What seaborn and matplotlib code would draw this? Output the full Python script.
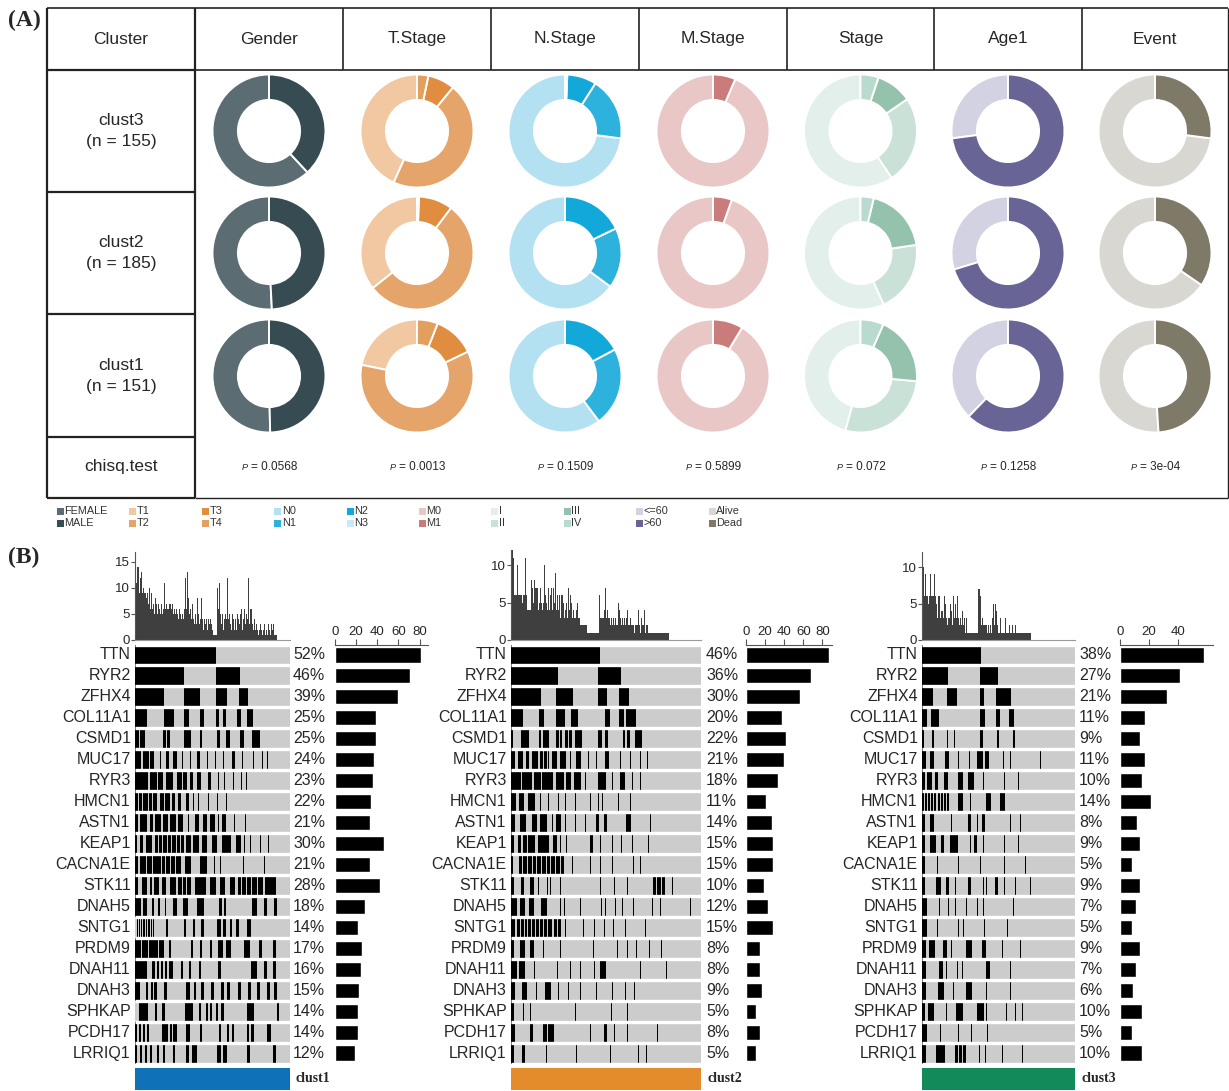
import numpy as np
import pandas as pd
import matplotlib
matplotlib.use("Agg")
import matplotlib.pyplot as plt
from matplotlib.colors import ListedColormap
from matplotlib.patches import Rectangle
import seaborn as sns

sns.set_theme(style="white")
plt.rcParams['font.family'] = ['Liberation Sans', 'DejaVu Sans']

# ---------------- panel A data ----------------
features = ['Gender', 'T.Stage', 'N.Stage', 'M.Stage', 'Stage', 'Age1', 'Event']
clusters = ['clust3', 'clust2', 'clust1']
cluster_n = [155, 185, 151]

gender_levels = ['FEMALE', 'MALE']
gender_colors = ['#5B6C73', '#364B52']
gender_counts = [[96, 59], [94, 91], [76, 75]]

tstage_levels = ['T1', 'T2', 'T3', 'T4']
tstage_colors = ['#F1C8A1', '#E4A46A', '#E08D3F', '#E39F5E']
tstage_counts = [[67, 71, 12, 5], [66, 100, 18, 1], [33, 91, 18, 9]]

nstage_levels = ['N0', 'N1', 'N2', 'N3']
nstage_colors = ['#B3E1F1', '#2DB2DE', '#13A8DA', '#C8EAF5']
nstage_counts = [[113, 28, 13, 1], [120, 32, 33, 0], [91, 34, 26, 0]]

mstage_levels = ['M0', 'M1']
mstage_colors = ['#E9C7C7', '#C97C79']
mstage_counts = [[145, 10], [175, 10], [138, 13]]

stage_levels = ['I', 'II', 'III', 'IV']
stage_colors = ['#E2EFEA', '#C9E1D6', '#94C2AC', '#B9DACE']
stage_counts = [[92, 39, 16, 8], [105, 38, 35, 7], [69, 42, 30, 10]]

age_levels = ['<=60', '>60']
age_colors = ['#D3D2E3', '#686496']
age_counts = [[42, 113], [55, 130], [57, 94]]

event_levels = ['Alive', 'Dead']
event_colors = ['#D8D7D1', '#7F7967']
event_counts = [[113, 42], [121, 64], [77, 74]]

pvalues = ['0.0568', '0.0013', '0.1509', '0.5899', '0.072', '0.1258', '3e-04']

# ---------------- panel B data ----------------
genes = ['TTN', 'RYR2', 'ZFHX4', 'COL11A1', 'CSMD1', 'MUC17', 'RYR3', 'HMCN1',
         'ASTN1', 'KEAP1', 'CACNA1E', 'STK11', 'DNAH5', 'SNTG1', 'PRDM9',
         'DNAH11', 'DNAH3', 'SPHKAP', 'PCDH17', 'LRRIQ1']
onco_names = ['clust1', 'clust2', 'clust3']
onco_colors = ['#0F71B8', '#E48B2C', '#138A5A']
n_samples = [155, 190, 153]

pct_c1 = [52, 46, 39, 25, 25, 24, 23, 22, 21, 30, 21, 28, 18, 14, 17, 16, 15, 14, 14, 12]
pct_c2 = [46, 36, 30, 20, 22, 21, 18, 11, 14, 15, 15, 10, 12, 15, 8, 8, 9, 5, 8, 5]
pct_c3 = [38, 27, 21, 11, 9, 11, 10, 14, 8, 9, 5, 9, 7, 5, 9, 7, 6, 10, 5, 10]

tmb_c1 = [17, 11, 14, 14, 9, 12, 13, 9, 10, 9, 9, 8, 9, 7, 10, 6, 9, 6, 7, 5,
          8, 7, 5, 7, 6, 5, 7, 5, 6, 11, 6, 7, 6, 6, 7, 7, 6, 7, 5, 6,
          5, 6, 5, 4, 6, 5, 4, 5, 4, 6, 12, 6, 13, 8, 5, 6, 4, 7, 4, 3,
          5, 3, 8, 5, 3, 4, 8, 4, 2, 4, 3, 4, 2, 4, 3, 4, 3, 2, 1, 1,
          1, 1, 10, 6, 11, 5, 3, 5, 2, 4, 5, 4, 12, 4, 5, 3, 2, 5, 4, 2,
          4, 2, 5, 4, 3, 5, 6, 2, 4, 6, 3, 5, 4, 12, 3, 6, 6, 3, 2, 4,
          2, 3, 2, 1, 2, 3, 2, 1, 2, 3, 1, 2, 1, 3, 2, 1, 3, 2, 3, 1, 1, 1]
tmb_c2 = [11, 12, 11, 6, 6, 6, 10, 6, 6, 6, 6, 5, 6, 6, 11, 6, 4, 4, 4, 4,
          8, 7, 5, 8, 7, 7, 7, 4, 5, 7, 5, 4, 5, 10, 6, 5, 4, 7, 4, 6,
          7, 4, 7, 5, 9, 4, 6, 4, 6, 3, 6, 6, 5, 3, 4, 5, 3, 7, 4, 6,
          5, 3, 4, 3, 3, 4, 5, 3, 3, 2, 2, 2, 2, 2, 2, 2, 1, 1, 1, 1,
          1, 1, 1, 1, 1, 1, 1, 1, 6, 3, 3, 3, 3, 4, 7, 3, 4, 3, 3, 2,
          3, 2, 3, 2, 3, 2, 2, 5, 4, 3, 2, 3, 2, 3, 2, 3, 4, 2, 2, 3,
          2, 2, 2, 1, 2, 2, 2, 4, 2, 1, 3, 2, 2, 4, 1, 2, 2, 1, 1, 1,
          1, 1, 1, 1, 1, 1, 1, 1, 1, 1, 1, 1, 1, 1, 1, 1, 1, 1]
tmb_c3 = [11, 10, 6, 9, 6, 6, 5, 6, 9, 6, 6, 6, 9, 6, 5, 3, 6, 6, 3, 4,
          4, 3, 6, 5, 3, 2, 3, 3, 5, 4, 2, 6, 3, 5, 3, 6, 3, 2, 3, 2,
          4, 2, 3, 1, 3, 1, 1, 1, 1, 1, 1, 1, 1, 1, 1, 1, 7, 7, 6, 2,
          3, 2, 2, 2, 2, 1, 2, 1, 2, 1, 3, 5, 2, 5, 4, 2, 1, 1, 3, 1,
          1, 1, 1, 3, 1, 1, 1, 2, 1, 1, 2, 1, 1, 2, 1, 1, 1, 1, 1, 1,
          1, 1, 1, 1, 1, 1, 1, 1, 1]

# mutated sample runs per gene (sample positions in oncoprint order)
runs_c1 = ["0-80", "0-48 81-104", "0-28 49-64 81-91 104-112",
           "0-11 29-38 49-53 65-68 81-83 88-90 102-105 112-117",
           "0-3 5-9 28-30 32-34 49-55 65-66 82-84 91-94 105-108 117-124",
           "0-5 8-13 15-18 25 31-33 38-41 47 55 62-64 72 80 88 97-99 107 118 127 132",
           "0-12 15-21 23-27 31-37 42-46 48-51 55-57 62-65 73-75 83 89 98 106 111",
           "0-2 4-6 8-12 14-16 18-21 25-28 30-34 37-39 43-45 51-53 58 63 73 82 91",
           "0-2 5-11 15-17 20-25 28-32 35-40 43-47 53 60-63 68-71 75-79 83 87-90 99 110",
           "0-1 5-7 11-16 20-22 24-26 28-31 33-35 37-40 42-44 46-48 51-55 58-63 67-71 77-81 87-95 101-105 109 115 125 133",
           "0-2 5-10 12-16 18-25 27-29 31-34 36-39 41-45 50-55 65-71 79 85 108 129",
           "0-2 7-11 15-16 19-23 27-30 35-40 43-46 48-50 52-55 60-70 75-80 85-89 95-99 103-105 107-110 112-115 117-121 123-127 130-140",
           "0-5 8-11 17-18 23-24 30 38-41 48-52 62-68 84-86 89-90 117-121 129-131 139-141",
           "2 4 6 8-9 11 13-14 16 18 31-32 49-50 58-59 66-68 82-85 88-90 95-96 101-103 112-115",
           "0-5 7-12 14-22 24-28 34-35 56-57 65-66 75-76 83-87 91-95 109-114 124-126 138-140",
           "0-11 17-19 22-23 26-27 30-31 34-37 46-47 54-55 64-65 83-85 116-121 129-131 138-140",
           "0-4 11-12 16-17 19-21 29-31 51-54 59-60 66-68 76-78 86-88 92-94 103-105 113-115 122-124 132-134 139-141",
           "4-12 20-21 27-29 50-57 64-65 71-72 75-76 81-82 86-88 112-118 142-143",
           "0-1 4-5 8-9 12-13 27-32 35-36 38-41 51-54 65-66 84-85 92-93 97-98 112-113 116-118 132-135",
           "0-1 5-6 10-11 15-16 22-23 28-29 38-39 51-53 57-61 82-85 88-91 112-114 138-140"]
runs_c2 = ["0-88", "0-46 87-109", "0-29 45-61 87-95 108-117",
           "0-11 28-32 45-53 60-66 94-98 108-112 115-124",
           "0-1 10-17 28-29 32-37 45-47 49-50 54-56 58-60 64-70 87-88 89-90 94-95 96 112-113 116-118 124-130",
           "0-3 7-11 15-17 21-26 29-31 33-35 37 41-45 49-54 59 65-69 77 85 94-97 109 119 129 136",
           "0-9 11-20 23-29 31-41 45-52 55-59 63-69 74 87-94 101 109-113 121 129",
           "0-4 8-12 17-23 29 37 47 54 64 79 87 91 107 119",
           "0-3 9-14 21-25 29-35 41 45-49 54 64 74 85-87 93-95 115-119 139",
           "0-2 7-9 12-15 17-23 27-37 42-45 49 55 79-81 89 101 110 121 137",
           "0-1 8-10 12-15 17-20 22-24 26-29 31-34 36-38 40-43 45-48 50-52 61 79 89 101 122 129",
           "0-2 10-12 19-22 27 36 39 49 89 103 116 142-144 146-149 151-153 161",
           "0-5 9-13 18-22 30-35 49 53 69 90 94 104 111 122 141 149 179",
           "0-3 6-8 10-12 14-15 17-19 21-23 25-27 29-31 33-35 37-40 43-45 47-49 54 72 83 93 102 114 134",
           "0-2 9-13 19-22 32 49 82 106 116 125 138 150",
           "0-5 8-13 23 46 59 69 83 89-94 129 155",
           "0-3 11-15 25 34-39 47 57 69 85 101 114 123",
           "0-2 12 19 64 100 116",
           "0-3 19-21 32-35 37-39 40-42 79 93-95 103 116 146",
           "0-2 11-13 35 65 99 127 135"]
runs_c3 = ["0-58", "0-25 58-75", "0-10 25-34 58-61 74-88",
           "0-4 9-16 58-62 74-77 87-91",
           "0-1 10-11 25 32 58-60 75-76 91-92",
           "0-3 8-11 23-26 36 47 55-60 63-66 81 88 118",
           "0-2 5-9 13-15 22-25 36-40 46-51 61 82 96",
           "0-1 3-4 6-7 9-10 12-13 16-17 19-20 22-23 25-26 36-40 48 64-68 78-82",
           "0-2 8-11 29 46-48 55 60-62 88 98",
           "0-2 8-13 19-21 28-35 48 52-54 61 82 96",
           "0-2 15 36 58 82 103",
           "0-2 14-18 24-26 33 46-48 61 64 73-75 82 93 108",
           "0-4 17 26 33 44 55 61 91",
           "0-4 15 36 41 62 85",
           "0-3 7-12 21-24 29 44-49 60-63 80 98",
           "0-3 17-20 24 35 40 64-67 88",
           "0-3 16-21 31 44-49 64 88",
           "0-2 6-11 24 34-40 55-61 64 84 93 100",
           "0-4 18 36 49 65",
           "0-3 14-22 33-35 37-39 41-43 57 63 80 100"]

# ---------------- figure ----------------
W, H = 1229, 1091
fig = plt.figure(figsize=(W / 100, H / 100), dpi=100)


def px_axes(x0, y0, x1, y1):
    a = fig.add_axes([x0 / W, 1 - y1 / H, (x1 - x0) / W, (y1 - y0) / H])
    a.patch.set_alpha(0)
    return a


ov = fig.add_axes([0, 0, 1, 1])
ov.set_xlim(0, W)
ov.set_ylim(H, 0)
ov.axis('off')

# panel labels
ov.text(8, 20, '(A)', fontsize=17, fontweight='bold', family='Liberation Serif', va='center')
ov.text(8, 557, '(B)', fontsize=17, fontweight='bold', family='Liberation Serif', va='center')

# ---- table frame ----
edges = [195, 343, 491, 639, 787, 934, 1082, 1228]
row_edges = [70, 192, 314, 437, 498]
lc = '#222222'
ov.hlines([8, 70], 47, 1228, color=lc, lw=1.2)
ov.vlines(edges[1:-1], 8, 70, color=lc, lw=1.2)
ov.vlines([47, 195], 8, 498, color=lc, lw=1.6)
ov.hlines(row_edges, 47, 195, color=lc, lw=1.6)
ov.vlines(1228, 8, 498, color=lc, lw=1.0)
ov.hlines(498, 195, 1228, color=lc, lw=1.0)

ov.text(121, 39, 'Cluster', ha='center', va='center', fontsize=12.5)
centers = [(edges[i] + edges[i + 1]) / 2 for i in range(7)]
for cx, f in zip(centers, features):
    ov.text(cx, 39, f, ha='center', va='center', fontsize=12.5)

row_y = [131, 253, 376]
for cy, cl, n in zip(row_y, clusters, cluster_n):
    ov.text(121, cy, f'{cl}\n(n = {n})', ha='center', va='center', fontsize=12.5, linespacing=1.5)
ov.text(121, 467, 'chisq.test', ha='center', va='center', fontsize=12.5)

# ---- donuts ----
donut_counts = [gender_counts, tstage_counts, nstage_counts, mstage_counts,
                stage_counts, age_counts, event_counts]
donut_colors = [gender_colors, tstage_colors, nstage_colors, mstage_colors,
                stage_colors, age_colors, event_colors]
r = 56.5
for j, cx in enumerate(centers):
    for i, cy in enumerate(row_y):
        a = px_axes(cx - r, cy - r, cx + r, cy + r)
        a.pie(donut_counts[j][i], colors=donut_colors[j], startangle=90, counterclock=True,
              wedgeprops=dict(width=0.45, edgecolor='white', linewidth=1.4))
        a.set_xlim(-1, 1)
        a.set_ylim(-1, 1)
        a.set_aspect('auto')
        a.axis('off')

# ---- p-values ----
fig.canvas.draw()
renderer = fig.canvas.get_renderer()
for cx, p in zip(centers, pvalues):
    t = ov.text(cx + 5, 467, f'= {p}', ha='center', va='center', fontsize=8.5)
    bb = t.get_window_extent(renderer)
    x_left = ov.transData.inverted().transform((bb.x0, bb.y0))[0]
    ov.text(x_left - 3, 468, 'P', ha='right', va='center', fontsize=6.5, style='italic')

# ---- legend ----
leg_levels = [gender_levels, tstage_levels[:2], tstage_levels[2:], nstage_levels[:2],
              nstage_levels[2:], mstage_levels, stage_levels[:2], stage_levels[2:],
              age_levels, event_levels]
leg_cols = [gender_colors, tstage_colors[:2], tstage_colors[2:], nstage_colors[:2],
            nstage_colors[2:], mstage_colors, stage_colors[:2], stage_colors[2:],
            age_colors, event_colors]
for k, (labs, cols) in enumerate(zip(leg_levels, leg_cols)):
    sx = 57 + 72.4 * k
    for m, (lab, col) in enumerate(zip(labs, cols)):
        sy = 511 + 12 * m
        ov.add_patch(Rectangle((sx, sy - 3.5), 7, 7, color=col, lw=0))
        ov.text(sx + 7.5, sy, lab, ha='left', va='center', fontsize=7.8, color='#333333')

# ---------------- panel B: oncoprints ----------------
def runs_to_row(s, n):
    row = np.zeros(n, dtype=int)
    for tok in s.split():
        if '-' in tok:
            a0, b0 = map(int, tok.split('-'))
            row[a0:b0 + 1] = 1
        else:
            row[int(tok)] = 1
    return row


mat_x = [(135, 290), (511, 701), (922, 1075)]
pct_x = [293, 706, 1079]
bar_x = [(335, 428), (746, 832), (1120, 1213)]
bar_max = [88, 90, 64]
bar_ticks = [[0, 20, 40, 60, 80], [0, 20, 40, 60, 80], [0, 20, 40]]
tmb_top = [551.6, 550, 552.4]
tmb_max = [17, 12, 12]
tmb_ticks = [[0, 5, 10, 15], [0, 5, 10], [0, 5, 10]]
all_pct = [pct_c1, pct_c2, pct_c3]
all_tmb = [tmb_c1, tmb_c2, tmb_c3]
all_runs = [runs_c1, runs_c2, runs_c3]

m_top, m_bot = 644.5, 1063.5
row_h = (m_bot - m_top) / len(genes)

for c in range(3):
    N = n_samples[c]
    x0, x1 = mat_x[c]

    # mutation matrix
    mat = pd.DataFrame([runs_to_row(s, N) for s in all_runs[c]], index=genes)
    ax = px_axes(x0, m_top, x1, m_bot)
    sns.heatmap(mat, ax=ax, cmap=ListedColormap(['#CCCCCC', '#000000']), vmin=0, vmax=1,
                cbar=False, xticklabels=False, yticklabels=True)
    ax.hlines(np.arange(0, len(genes) + 1), 0, N, colors='white', lw=2.4)
    ax.tick_params(axis='y', length=0, pad=3, labelsize=11.5, labelrotation=0)
    ax.set_xlabel('')
    ax.set_ylabel('')

    # percentage labels
    for i, p in enumerate(all_pct[c]):
        ov.text(pct_x[c], m_top + (i + 0.5) * row_h, f'{p}%', ha='left', va='center', fontsize=11.5)

    # right bar: mutated sample counts
    counts = [round(p * N / 100) for p in all_pct[c]]
    axr = px_axes(bar_x[c][0], m_top, bar_x[c][1], m_bot)
    sns.barplot(x=counts, y=genes, orient='h', color='black', saturation=1, width=0.72, ax=axr)
    axr.set_xlim(0, bar_max[c])
    axr.set_ylim(len(genes) - 0.5, -0.5)
    axr.xaxis.tick_top()
    axr.set_xticks(bar_ticks[c])
    axr.tick_params(axis='x', direction='out', length=4, width=0.8, color='#555555',
                    labelsize=9.5, pad=1, bottom=False, top=True)
    axr.set_yticks([])
    axr.set_xlabel('')
    axr.set_ylabel('')
    for s in ['left', 'right', 'bottom']:
        axr.spines[s].set_visible(False)
    axr.spines['top'].set_color('#555555')
    axr.spines['top'].set_linewidth(0.8)

    # top bar: mutations per sample
    tmb = all_tmb[c]
    axt = px_axes(x0, tmb_top[c], x1, 640)
    sns.barplot(x=list(range(len(tmb))), y=tmb, color='#3F3F3F', saturation=1, width=0.8,
                linewidth=0, ax=axt)
    axt.set_xlim(-0.5, N - 0.5)
    axt.set_ylim(0, tmb_max[c])
    axt.set_xticks([])
    axt.set_yticks(tmb_ticks[c])
    axt.tick_params(axis='y', direction='out', length=3, width=0.8, color='#555555',
                    labelsize=9.5, pad=1, left=True)
    axt.set_xlabel('')
    axt.set_ylabel('')
    for s in ['top', 'right']:
        axt.spines[s].set_visible(False)
    axt.spines['left'].set_color('#555555')
    axt.spines['bottom'].set_color('#999999')
    axt.spines['left'].set_linewidth(0.8)
    axt.spines['bottom'].set_linewidth(0.8)

    # cluster annotation bar
    ov.add_patch(Rectangle((x0, 1068), x1 - x0, 22, color=onco_colors[c], lw=0))
    ov.text(x1 + 6, 1078, onco_names[c], ha='left', va='center', fontsize=10,
            fontweight='bold', family='Liberation Serif')

fig.savefig('out.png', dpi=100)
